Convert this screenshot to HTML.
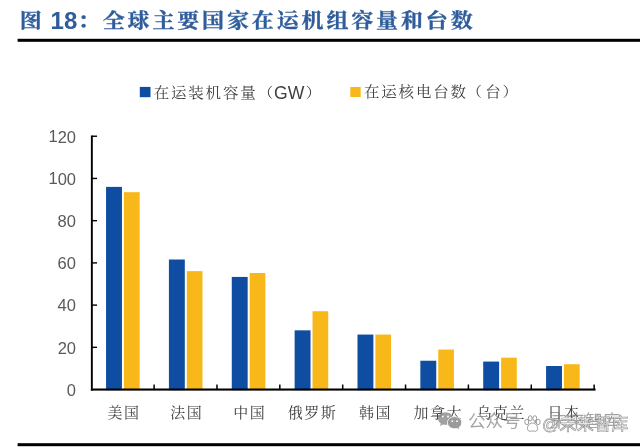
<!DOCTYPE html>
<html lang="zh-CN">
<head>
<meta charset="utf-8">
<title>图 18：全球主要国家在运机组容量和台数</title>
<style>
html,body{margin:0;padding:0;background:#fff;}
body{width:640px;height:447px;position:relative;overflow:hidden;font-family:"Liberation Sans","Noto Serif CJK SC",serif;}
.abs{position:absolute;}
.title{left:0;top:4.5px;height:32px;line-height:32px;font-size:22px;font-weight:bold;color:#2f5d9b;white-space:nowrap;letter-spacing:2.86px;width:640px;}
.title span,.title b{position:absolute;top:0;}
.title span{-webkit-text-stroke:0.35px #2f5d9b;transform:scaleY(0.92);transform-origin:50% 62%;}
.title b{font-size:24px;letter-spacing:0;font-weight:bold;}
.leg{font-size:15.5px;color:#404040;white-space:nowrap;height:20px;line-height:20px;letter-spacing:1.8px;}
.leg span{font-size:17.6px;letter-spacing:0;position:relative;top:1px;margin-left:-0.9px;}
.leg i{font-style:normal;margin-left:0.2px;}
.leg u{text-decoration:none;display:inline-block;transform:translateY(0.3px) scaleY(0.92);transform-origin:50% 58%;}
.yl{font-size:16.5px;color:#595959;text-align:right;width:40px;height:16px;line-height:16px;}
.xl{font-size:15px;color:#404040;text-align:center;width:70px;height:18px;line-height:18px;letter-spacing:1.5px;white-space:nowrap;}
.wm{font-family:"Liberation Sans","Noto Sans CJK SC",sans-serif;font-size:17.5px;color:rgba(125,125,125,0.7);white-space:nowrap;height:24px;line-height:24px;}
.wb{font-size:17px;color:rgba(255,255,255,0.9);-webkit-text-stroke:0.7px rgba(120,120,120,0.75);letter-spacing:0.3px;}
svg{position:absolute;left:0;top:0;overflow:visible;}
</style>
</head>
<body>
<div class="abs title"><span style="left:19.8px">图 </span><b style="left:50.6px">18</b><span style="left:77.8px">：全球主要国家在运机组容量和台数</span></div>
<svg width="640" height="447" viewBox="0 0 640 447">
<rect x="17.6" y="38.8" width="622.4" height="3" fill="#000"/>
<rect x="17.6" y="443.2" width="622.4" height="3" fill="#000"/>
<rect x="139.8" y="86.9" width="10.7" height="10.3" fill="#0f4da2"/>
<rect x="350.3" y="87" width="10.4" height="10" fill="#f8b81a"/>
<rect x="106.05" y="186.89" width="15.9" height="203.26" fill="#0f4da2"/>
<rect x="123.95" y="192.17" width="15.7" height="197.98" fill="#f8b81a"/>
<rect x="168.91" y="259.51" width="15.9" height="130.64" fill="#0f4da2"/>
<rect x="186.81" y="271.12" width="15.7" height="119.03" fill="#f8b81a"/>
<rect x="231.77" y="276.93" width="15.9" height="113.22" fill="#0f4da2"/>
<rect x="249.67" y="273.02" width="15.7" height="117.13" fill="#f8b81a"/>
<rect x="294.63" y="330.34" width="15.9" height="59.81" fill="#0f4da2"/>
<rect x="312.53" y="311.23" width="15.7" height="78.92" fill="#f8b81a"/>
<rect x="357.49" y="334.56" width="15.9" height="55.59" fill="#0f4da2"/>
<rect x="375.39" y="334.56" width="15.7" height="55.59" fill="#f8b81a"/>
<rect x="420.35" y="360.73" width="15.9" height="29.42" fill="#0f4da2"/>
<rect x="438.25" y="349.55" width="15.7" height="40.60" fill="#f8b81a"/>
<rect x="483.21" y="361.58" width="15.9" height="28.57" fill="#0f4da2"/>
<rect x="501.11" y="357.67" width="15.7" height="32.48" fill="#f8b81a"/>
<rect x="546.07" y="366.01" width="15.9" height="24.14" fill="#0f4da2"/>
<rect x="563.97" y="364.22" width="15.7" height="25.93" fill="#f8b81a"/>
<g fill="#000"><rect x="90.90" y="135.53" width="1.90" height="255.02"/><rect x="90.90" y="388.50" width="504.63" height="2.1"/><rect x="91.85" y="346.63" width="5.2" height="1.4"/><rect x="91.85" y="304.41" width="5.2" height="1.4"/><rect x="91.85" y="262.19" width="5.2" height="1.4"/><rect x="91.85" y="219.97" width="5.2" height="1.4"/><rect x="91.85" y="177.75" width="5.2" height="1.4"/><rect x="91.85" y="135.53" width="5.2" height="1.4"/><rect x="153.36" y="384.55" width="1.5" height="5"/><rect x="216.22" y="384.55" width="1.5" height="5"/><rect x="279.08" y="384.55" width="1.5" height="5"/><rect x="341.94" y="384.55" width="1.5" height="5"/><rect x="404.80" y="384.55" width="1.5" height="5"/><rect x="467.66" y="384.55" width="1.5" height="5"/><rect x="530.52" y="384.55" width="1.5" height="5"/><rect x="593.38" y="384.55" width="1.5" height="5"/></g>
</svg>
<div class="abs leg" style="left:153.7px;top:82px"><u>在运装机容量<i>（</i></u><span>GW</span><u><i style="margin-left:1.3px">）</i></u></div>
<div class="abs leg" style="left:364px;top:82px"><u>在运核电台数<i style="margin-left:-1.4px;margin-right:1.4px">（</i>台）</u></div>
<div class="abs yl" style="left:35.9px;top:382px">0</div>
<div class="abs yl" style="left:35.9px;top:339px;transform:translateY(0.5px) rotate(0.001deg)">20</div>
<div class="abs yl" style="left:35.9px;top:297px">40</div>
<div class="abs yl" style="left:35.9px;top:255px">60</div>
<div class="abs yl" style="left:35.9px;top:213px">80</div>
<div class="abs yl" style="left:35.9px;top:170px;transform:translateY(0.5px) rotate(0.001deg)">100</div>
<div class="abs yl" style="left:35.9px;top:128px;transform:translateY(0.5px) rotate(0.001deg)">120</div>
<div class="abs xl" style="left:89.03px;top:403.5px">美国</div>
<div class="abs xl" style="left:151.89px;top:403.5px">法国</div>
<div class="abs xl" style="left:214.75px;top:403.5px">中国</div>
<div class="abs xl" style="left:277.61px;top:403.5px">俄罗斯</div>
<div class="abs xl" style="left:340.47px;top:403.5px">韩国</div>
<div class="abs xl" style="left:403.33px;top:403.5px">加拿大</div>
<div class="abs xl" style="left:466.19px;top:403.5px">乌克兰</div>
<div class="abs xl" style="left:529.05px;top:403.5px">日本</div>
<svg style="left:437px;top:411px" width="27" height="21" viewBox="0 0 27 21">
<g fill="#8a8a8a" fill-opacity="0.8">
<path d="M8.6 1.2 C4.4 1.2 1 4 1 7.5 C1 9.5 2.1 11.2 3.8 12.4 L3 15 L6 13.4 C6.8 13.6 7.7 13.8 8.6 13.8 C12.8 13.8 16.2 11 16.2 7.5 C16.2 4 12.8 1.2 8.6 1.2 Z"/>
</g>
<g fill="#9b9b9b" stroke="#fff" stroke-width="0.9">
<path d="M17.6 5.6 C13.6 5.6 10.4 8.3 10.4 11.7 C10.4 15.1 13.6 17.8 17.6 17.8 C18.4 17.8 19.2 17.7 19.9 17.5 L22.6 19 L21.9 16.6 C23.6 15.5 24.8 13.7 24.8 11.7 C24.8 8.3 21.6 5.6 17.6 5.6 Z"/>
</g>
<g fill="#fff"><circle cx="5.8" cy="5.6" r="1"/><circle cx="11" cy="5.6" r="1"/><circle cx="15.3" cy="10.2" r="0.9"/><circle cx="20" cy="10.2" r="0.9"/></g>
</svg>
<div class="abs wm" style="left:468px;top:409px">公众号<span style="margin-left:12px;margin-right:12px">·</span>未来智库</div>
<svg style="left:524px;top:415px" width="17" height="18" viewBox="0 0 17 18" fill="#fff" stroke="#909090" stroke-width="0.9">
<ellipse cx="2.8" cy="7" rx="2" ry="2.7"/><ellipse cx="6.2" cy="3.3" rx="1.9" ry="2.6"/><ellipse cx="10.8" cy="3.3" rx="1.9" ry="2.6"/><ellipse cx="14.2" cy="7" rx="2" ry="2.7"/>
<path d="M8.5 8 C5.2 8 2.8 11.6 3.6 14.4 C4.4 17.2 6.6 16 8.5 16 C10.4 16 12.6 17.2 13.4 14.4 C14.2 11.6 11.8 8 8.5 8 Z"/>
</svg>
<div class="abs wm wb" style="left:542px;top:413px">@未来智库</div>
</body>
</html>
